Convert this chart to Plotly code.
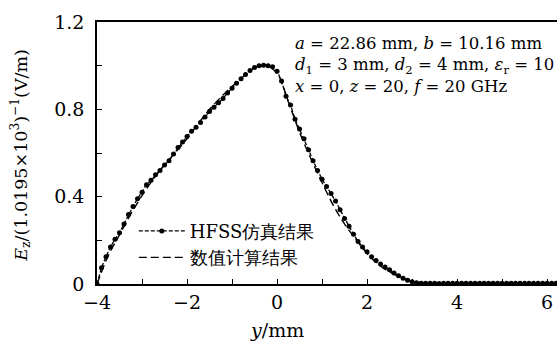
import plotly.graph_objects as go

# HFSS simulation samples (0.1 mm grid from -4.0 to 6.2)
hfss_y = [
    0.000, 0.075, 0.125, 0.170, 0.205, 0.235, 0.275, 0.318, 0.355, 0.390,
    0.420, 0.455, 0.475, 0.500, 0.520, 0.545, 0.565, 0.595, 0.625, 0.650,
    0.675, 0.700, 0.718, 0.740, 0.765, 0.790, 0.810, 0.830, 0.850, 0.875,
    0.897, 0.920, 0.940, 0.960, 0.978, 0.992, 1.000, 1.002, 1.000, 0.995,
    0.975, 0.930, 0.860, 0.820, 0.755, 0.710, 0.665, 0.615, 0.565, 0.520,
    0.480, 0.447, 0.415, 0.380, 0.340, 0.300, 0.265, 0.228, 0.195, 0.170,
    0.148, 0.125, 0.108, 0.092, 0.078, 0.065, 0.050, 0.038, 0.026, 0.017,
    0.010, 0.006, 0.004, 0.003, 0.003, 0.003, 0.002, 0.003, 0.003, 0.003,
    0.004, 0.003, 0.003, 0.003, 0.003, 0.004, 0.003, 0.003, 0.003, 0.003,
    0.003, 0.003, 0.004, 0.003, 0.003, 0.003, 0.003, 0.003, 0.003, 0.003,
    0.003, 0.003, 0.003,
]
hfss_x = [round(-4.0 + 0.1 * i, 1) for i in range(len(hfss_y))]

# Numerical calculation
num_x = [-4.0, -3.75, -3.5, -3.25, -3.0, -2.75, -2.5, -2.25, -2.0, -1.75,
         -1.5, -1.25, -1.0, -0.75, -0.5, -0.25, 0.0, 0.25, 0.5, 0.75,
         1.0, 1.25, 1.5, 1.75, 2.0, 2.25, 2.5, 2.75, 3.0, 3.25, 3.5, 4.0, 5.0, 6.2]
num_y = [0.000, 0.130, 0.225, 0.320, 0.405, 0.480, 0.545, 0.605, 0.665, 0.735,
         0.800, 0.855, 0.905, 0.950, 0.990, 1.000, 0.965, 0.835, 0.695, 0.575,
         0.465, 0.360, 0.275, 0.205, 0.140, 0.090, 0.055, 0.030, 0.012, 0.004,
         0.001, 0.000, 0.000, 0.000]

x_major = [-4, -2, 0, 2, 4, 6]
y_major = [0, 0.4, 0.8, 1.2]
y_major_text = ["0", "0.4", "0.8", "1.2"]

SERIF = "DejaVu Serif"

fig = go.Figure()
fig.add_trace(go.Scatter(
    x=num_x, y=num_y, mode="lines", name="数值计算结果",
    line=dict(color="black", width=1.4, dash="8px,4px", shape="spline"),
))
fig.add_trace(go.Scatter(
    x=hfss_x, y=hfss_y, mode="lines+markers", name="HFSS仿真结果",
    line=dict(color="black", width=1.3, dash="4px,2px"),
    marker=dict(color="black", size=5),
))

fig.update_layout(
    width=557, height=343,
    margin=dict(l=97, r=0, t=22, b=59),
    paper_bgcolor="white", plot_bgcolor="white",
    font=dict(family=SERIF, color="black", size=18),
    showlegend=True,
    legend=dict(
        x=0.08, y=0.272, xanchor="left", yanchor="top",
        bgcolor="rgba(0,0,0,0)", traceorder="reversed",
        font=dict(size=18, family=SERIF), tracegroupgap=0,
        itemwidth=46,
    ),
    xaxis=dict(
        range=[-4, 6.22], tickvals=x_major,
        ticks="inside", ticklen=5, tickwidth=1, tickcolor="black",
        minor=dict(dtick=1, tick0=0, ticks="inside", ticklen=5, tickcolor="black"),
        showline=True, linecolor="black", linewidth=1.5, mirror=True,
        showgrid=False, zeroline=False,
        tickfont=dict(size=19, family=SERIF),
    ),
    yaxis=dict(
        range=[0, 1.2], tickvals=y_major, ticktext=y_major_text,
        ticks="inside", ticklen=5, tickwidth=1, tickcolor="black",
        minor=dict(dtick=0.2, tick0=0, ticks="inside", ticklen=5, tickcolor="black"),
        showline=True, linecolor="black", linewidth=1.5,
        showgrid=False, zeroline=False, ticklabelstandoff=7,
        tickfont=dict(size=19, family=SERIF),
    ),
)

# x axis title
fig.add_annotation(
    xref="x", yref="paper", x=0, y=-0.175, yanchor="middle",
    text="<i>y</i>/mm", showarrow=False, font=dict(size=19, family=SERIF),
)
# y axis title
fig.add_annotation(
    xref="paper", yref="paper", x=-0.165, y=0.49, xanchor="center", yanchor="middle",
    textangle=-90, showarrow=False, font=dict(size=17.5, family=SERIF),
    text="<i>E</i><sub>z</sub>/(1.0195×10<sup>3</sup>)<sup>−1</sup>(V/m)",
)
# parameter text
fig.add_annotation(
    xref="paper", yref="paper", x=0.425, y=0.962, xanchor="left", yanchor="top",
    align="left", showarrow=False, font=dict(size=16.5, family=SERIF),
    text=("<i>a</i> = 22.86 mm, <i>b</i> = 10.16 mm<br>"
          "<i>d</i><sub>1</sub> = 3 mm, <i>d</i><sub>2</sub> = 4 mm, <i>ε</i><sub>r</sub> = 10<br>"
          "<i>x</i> = 0, <i>z</i> = 20, <i>f</i> = 20 GHz"),
)

fig.write_html("out.html")
